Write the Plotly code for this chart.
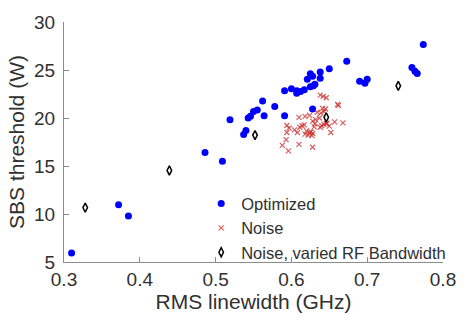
import plotly.graph_objects as go

# Optimized
opt_x = [0.310, 0.372, 0.385, 0.486, 0.509, 0.519, 0.537, 0.540, 0.543, 0.546,
         0.550, 0.555, 0.562, 0.564, 0.578, 0.591, 0.591, 0.600, 0.607, 0.607,
         0.612, 0.617, 0.621, 0.625, 0.625, 0.628, 0.629, 0.631, 0.628, 0.638,
         0.638, 0.650, 0.673, 0.690, 0.697, 0.700, 0.759, 0.763, 0.766, 0.774]
opt_y = [5.93, 10.97, 9.80, 16.40, 15.50, 19.83, 18.29, 18.69, 20.00, 20.17,
         20.67, 20.84, 21.78, 20.23, 21.21, 22.85, 20.23, 23.05, 22.85, 22.59,
         22.75, 22.95, 24.03, 24.60, 23.25, 24.36, 23.35, 23.52, 20.94, 24.80,
         24.13, 25.14, 25.91, 23.83, 23.63, 24.03, 25.27, 24.86, 24.63, 27.65]

# Noise
noise_x = [0.638, 0.642, 0.646, 0.662, 0.661, 0.641, 0.645, 0.643, 0.639, 0.634,
           0.618, 0.624, 0.610, 0.637, 0.632, 0.628, 0.668, 0.657, 0.643, 0.646,
           0.647, 0.640, 0.638, 0.650, 0.594, 0.597, 0.611, 0.614, 0.617, 0.604,
           0.608, 0.620, 0.624, 0.626, 0.618, 0.622, 0.628, 0.627, 0.594, 0.652,
           0.630, 0.631, 0.593, 0.588, 0.610, 0.596, 0.628]
noise_y = [22.39, 22.25, 22.11, 21.31, 21.41, 21.01, 20.94, 20.67, 20.50, 20.60,
           20.17, 20.27, 20.07, 20.00, 19.83, 19.67, 19.50, 19.60, 19.33, 19.40,
           19.47, 19.19, 19.04, 19.16, 19.22, 18.96, 19.04, 19.19, 19.29, 18.76,
           18.49, 18.66, 18.49, 18.56, 18.32, 18.22, 18.39, 18.16, 18.49, 18.49,
           19.07, 19.40, 17.75, 17.15, 17.25, 16.58, 16.95]

# Noise, varied RF Bandwidth
rf_x = [0.328, 0.439, 0.552, 0.646, 0.741]
rf_y = [10.67, 14.53, 18.22, 20.07, 23.35]

x_ticks = [0.3, 0.4, 0.5, 0.6, 0.7, 0.8]
x_labels = ["0.3", "0.4", "0.5", "0.6", "0.7", "0.8"]
y_ticks = [5, 10, 15, 20, 25, 30]
y_labels = ["5", "10", "15", "20", "25", "30"]

FONT = "Liberation Sans, Arial, Helvetica, sans-serif"
TXT = "#303030"
AX = "#8c8c8c"

fig = go.Figure()
fig.add_trace(go.Scatter(x=opt_x, y=opt_y, mode="markers", name="Optimized",
                         legendgroup="a",
                         marker=dict(symbol="circle", size=7, color="#0000ff",
                                     line=dict(width=0))))
fig.add_trace(go.Scatter(x=noise_x, y=noise_y, mode="markers", name="Noise",
                         legendgroup="b",
                         marker=dict(symbol="x-thin", size=5, color="rgba(200,40,40,0.75)",
                                     line=dict(width=1.2, color="rgba(200,40,40,0.75)"))))
fig.add_trace(go.Scatter(x=rf_x, y=rf_y, mode="markers", name="Noise, varied RF Bandwidth",
                         legendgroup="c",
                         marker=dict(symbol="diamond-tall-open", size=6.5, color="#000000",
                                     line=dict(width=1.5, color="#000000"))))

fig.update_layout(
    width=468, height=321,
    margin=dict(l=64, r=15, t=16, b=57),
    paper_bgcolor="white", plot_bgcolor="white",
    font=dict(family=FONT, color=TXT, size=19),
    showlegend=True,
    legend=dict(x=0.362, y=0.316, xanchor="left", yanchor="top",
                bgcolor="rgba(0,0,0,0)", borderwidth=0,
                font=dict(size=16.5, family=FONT, color=TXT),
                traceorder="grouped", tracegroupgap=0,
                itemwidth=30),
    xaxis=dict(range=[0.3, 0.8], tickvals=x_ticks, ticktext=x_labels,
               showgrid=False, zeroline=False, showline=True, linecolor=AX, linewidth=1,
               ticks="inside", ticklen=5, tickcolor=AX, tickwidth=1,
               tickfont=dict(size=19, color=TXT),
               title=dict(text="RMS linewidth (GHz)", font=dict(size=21, color=TXT), standoff=5)),
    yaxis=dict(range=[5, 30], tickvals=y_ticks, ticktext=y_labels,
               showgrid=False, zeroline=False, showline=True, linecolor=AX, linewidth=1,
               ticks="inside", ticklen=5, tickcolor=AX, tickwidth=1,
               tickfont=dict(size=19, color=TXT), ticklabelstandoff=4,
               title=dict(text="SBS threshold (W)", font=dict(size=21, color=TXT), standoff=3)),
)

fig.write_html("out.html")
